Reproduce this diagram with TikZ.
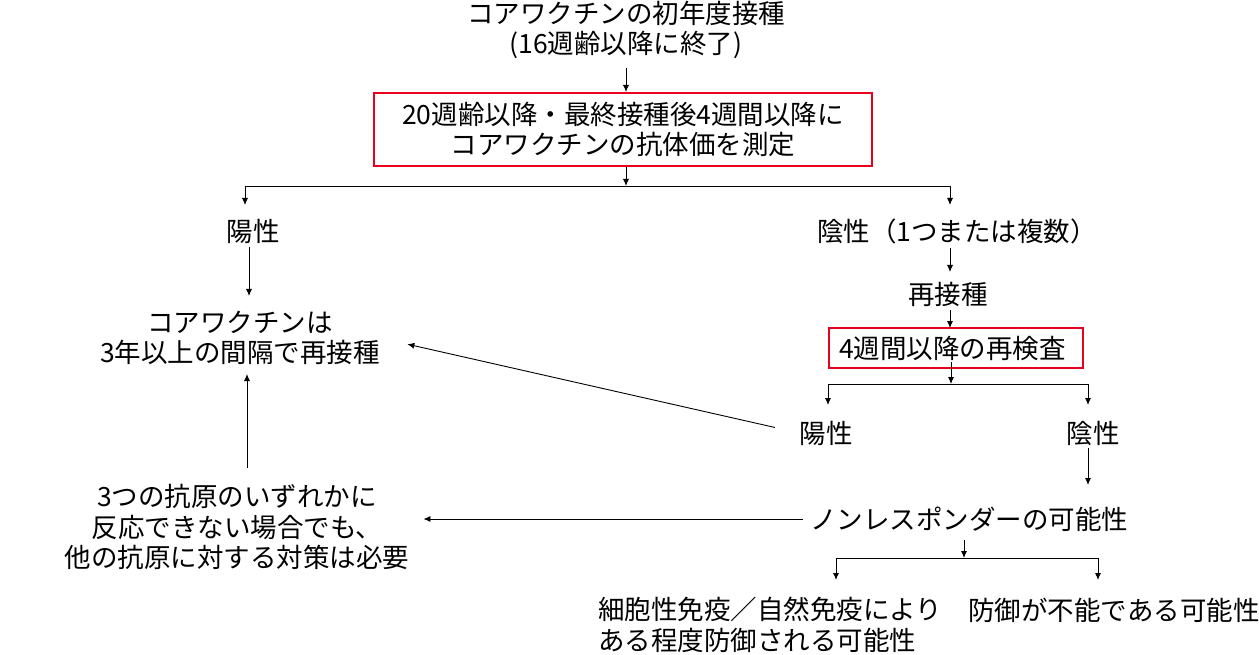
\documentclass[tikz,border=0pt]{standalone}
\usepackage{fontspec}
\setmainfont{Noto Sans CJK JP}
\usetikzlibrary{arrows.meta}
\definecolor{boxred}{RGB}{232,0,28}
\begin{document}
\begin{tikzpicture}[x=1pt,y=-1pt,
  txt/.style={font=\fontsize{26.5}{30.5}\selectfont, align=center, inner sep=0pt, text=black},
  redbox/.style={draw=boxred, line width=2pt},
  conn/.style={draw=black, line width=0.9pt},
  arr/.style={conn, -{Latex[length=7pt,width=6pt]}}]
\useasboundingbox (0,0) rectangle (1259,655);
% nodes
\node[txt] (top) at (626,30) {コアワクチンの初年度接種\\(16週齢以降に終了)};
\node[txt, redbox, minimum width=498pt, minimum height=73pt] (b1) at (623,129.5)
  {20週齢以降・最終接種後4週間以降に\\コアワクチンの抗体価を測定};
\node[txt] (pos1) at (253,231) {陽性};
\node[txt] (neg1) at (957,231) {陰性（1つまたは複数）};
\node[txt] (core) at (240,338) {コアワクチンは\\3年以上の間隔で再接種};
\node[txt] (re) at (948,294) {再接種};
\node[txt, redbox, anchor=west, minimum height=40pt, inner xsep=10pt, text width=234pt, align=left] (b2) at (828,348) {4週間以降の再検査};
\node[txt] (pos2) at (826,433) {陽性};
\node[txt] (neg2) at (1093,433) {陰性};
\node[txt] (nr) at (969,519) {ノンレスポンダーの可能性};
\node[txt] (lt) at (237,527) {3つの抗原のいずれかに\\反応できない場合でも、\\他の抗原に対する対策は必要};
\node[txt, anchor=west, align=left] (cell) at (598,625) {細胞性免疫／自然免疫により\\ある程度防御される可能性};
\node[txt] (nodef) at (1114,610) {防御が不能である可能性};
% junction coordinates
\coordinate (s0) at (626,68);
\coordinate (j1) at (626,186);
\coordinate (l1) at (245,186);
\coordinate (r1) at (950,186);
\coordinate (e1) at (245,205);
\coordinate (e2) at (950,205);
\coordinate (s2) at (951,362);
\coordinate (j2) at (951,384);
\coordinate (l2) at (828,384);
\coordinate (r2) at (1088,384);
\coordinate (e3) at (828,405);
\coordinate (e4) at (1088,405);
\coordinate (s3) at (964,540);
\coordinate (j3) at (964,558);
\coordinate (l3) at (836,558);
\coordinate (r3) at (1098,558);
\coordinate (e5) at (836,580);
\coordinate (e6) at (1098,580);
\coordinate (up0) at (247,468);
\coordinate (up1) at (247,374);
% connectors
\draw[arr] (s0) -- (s0 |- b1.north);
\draw[arr] (j1 |- b1.south) -- (j1);
\draw[conn] (l1) -- (r1);
\draw[arr] (l1) -- (e1);
\draw[arr] (r1) -- (e2);
\draw[arr] (249,247) -- (249,296);
\draw[arr] (950,248) -- (950,272);
\draw[arr] (950,310) -- (950,328);
\draw[arr] (s2) -- (j2);
\draw[conn] (l2) -- (r2);
\draw[arr] (l2) -- (e3);
\draw[arr] (r2) -- (e4);
\draw[arr, shorten <=25pt, shorten >=28pt] (pos2.west) -- (core.east);
\draw[arr] (1088,448) -- (1088,485);
\draw[arr, shorten <=7pt, shorten >=14pt] (nr.west) -- (lt.east |- nr.west);
\draw[arr] (up0) -- (up1);
\draw[arr] (s3) -- (j3);
\draw[conn] (l3) -- (r3);
\draw[arr] (l3) -- (e5);
\draw[arr] (r3) -- (e6);
\end{tikzpicture}
\end{document}
